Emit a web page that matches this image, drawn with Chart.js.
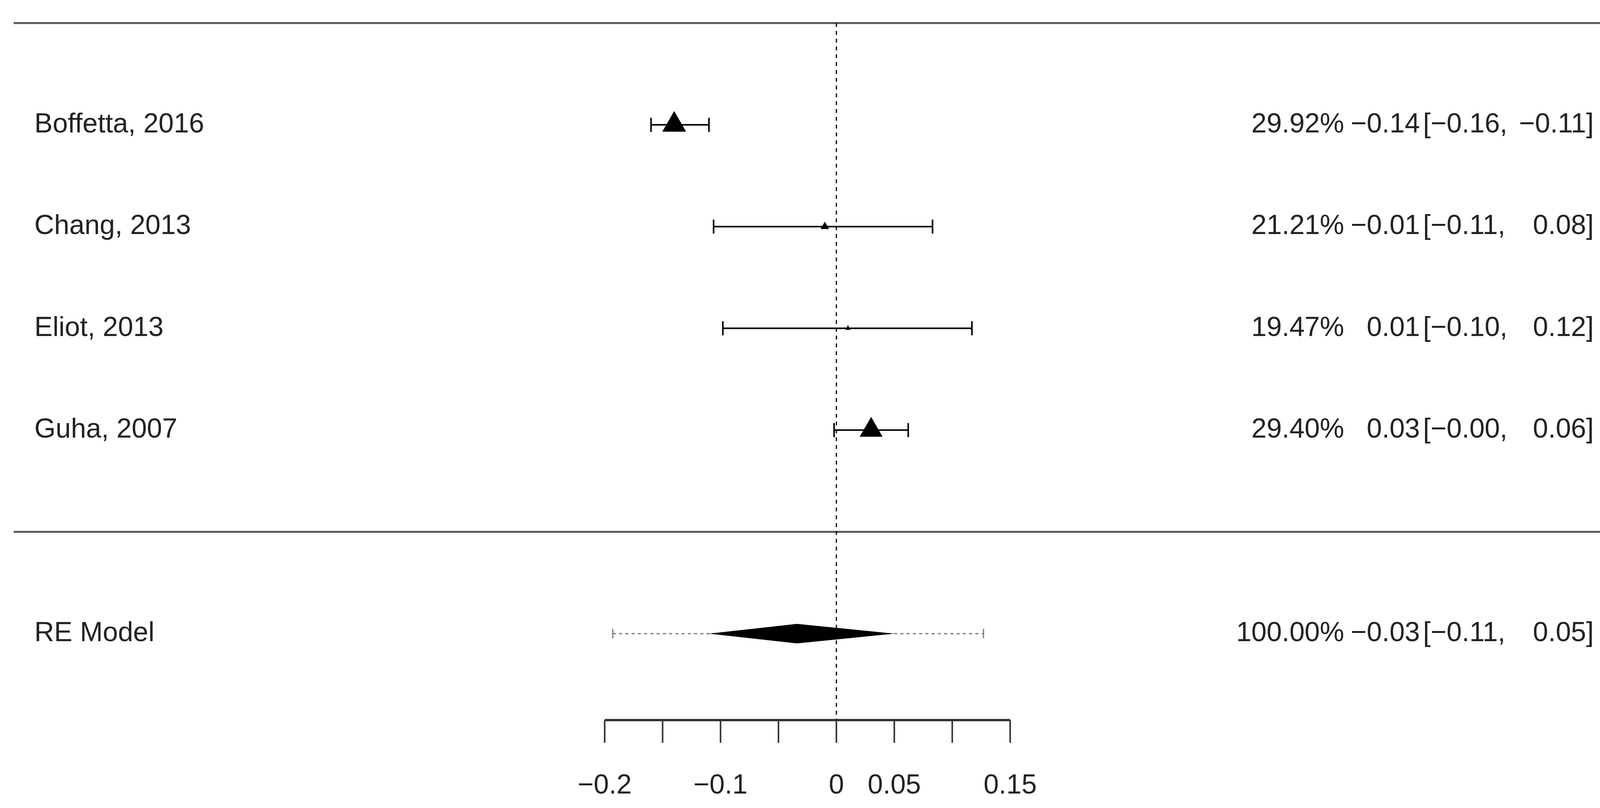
<!DOCTYPE html>
<html><head><meta charset="utf-8">
<script src="https://cdn.jsdelivr.net/npm/chart.js@4/dist/chart.umd.min.js"></script>
<style>html,body{margin:0;padding:0;background:#fff}#wrap{width:4176px;height:2068px}</style>
</head><body><div id="wrap"><canvas id="c"></canvas></div>
<script>
const studies = ["Boffetta, 2016", "Chang, 2013", "Eliot, 2013", "Guha, 2007"];
const estimates = [-0.14, -0.01, 0.01, 0.03];
const lowers = [-0.16, -0.106, -0.098, -0.002];
const uppers = [-0.11, 0.083, 0.117, 0.062];
const weights = [29.92, 21.21, 19.47, 29.40];
const estLabels = ["-0.14", "-0.01", "0.01", "0.03"];
const ciLoLabels = ["-0.16", "-0.11", "-0.10", "-0.00"];
const ciHiLabels = ["-0.11", "0.08", "0.12", "0.06"];
const modelLabel = "RE Model";
const modelEst = -0.034, modelLo = -0.11, modelHi = 0.05;
const modelPiLo = -0.193, modelPiHi = 0.127;
const modelText = ["100.00%", "-0.03", "-0.11", "0.05"];
const tickValues = [-0.2, -0.15, -0.1, -0.05, 0, 0.05, 0.1, 0.15];
const tickLabels = ["-0.2", "", "-0.1", "", "0", "0.05", "", "0.15"];

const rows = studies.map((s, i) => i + 1);
const modelRow = 6;
const fix = s => s.replace(/-/g, "\u2212");
const FONT = '70px "Liberation Sans", "DejaVu Sans", sans-serif';

const forest = {
  id: 'forest',
  afterDatasetsDraw(chart) {
    const {ctx, scales: {x, y}} = chart;
    ctx.save();
    ctx.strokeStyle = '#555'; ctx.lineWidth = 5;
    [0, 5].forEach(r => { ctx.beginPath(); ctx.moveTo(35, y.getPixelForValue(r)); ctx.lineTo(4128, y.getPixelForValue(r)); ctx.stroke(); });
    ctx.strokeStyle = '#000'; ctx.lineWidth = 3; ctx.setLineDash([10, 10]);
    ctx.beginPath(); ctx.moveTo(x.getPixelForValue(0), y.getPixelForValue(0)); ctx.lineTo(x.getPixelForValue(0), y.getPixelForValue(6.85)); ctx.stroke();
    ctx.setLineDash([]);
    ctx.lineWidth = 4;
    studies.forEach((s, i) => {
      const py = y.getPixelForValue(rows[i]), a = x.getPixelForValue(lowers[i]), b = x.getPixelForValue(uppers[i]);
      ctx.beginPath(); ctx.moveTo(a, py); ctx.lineTo(b, py);
      ctx.moveTo(a, py - 18); ctx.lineTo(a, py + 18); ctx.moveTo(b, py - 18); ctx.lineTo(b, py + 18); ctx.stroke();
    });
    const my = y.getPixelForValue(modelRow);
    ctx.strokeStyle = '#777'; ctx.lineWidth = 3; ctx.setLineDash([8, 8]);
    ctx.beginPath(); ctx.moveTo(x.getPixelForValue(modelPiLo), my); ctx.lineTo(x.getPixelForValue(modelPiHi), my); ctx.stroke();
    ctx.setLineDash([]);
    [modelPiLo, modelPiHi].forEach(v => { ctx.beginPath(); ctx.moveTo(x.getPixelForValue(v), my - 12); ctx.lineTo(x.getPixelForValue(v), my + 12); ctx.stroke(); });
    ctx.fillStyle = '#000';
    ctx.beginPath(); ctx.moveTo(x.getPixelForValue(modelLo), my); ctx.lineTo(x.getPixelForValue(modelEst), my - 25);
    ctx.lineTo(x.getPixelForValue(modelHi), my); ctx.lineTo(x.getPixelForValue(modelEst), my + 25); ctx.closePath(); ctx.fill();
    const ay = y.getPixelForValue(6.85);
    ctx.strokeStyle = '#333'; ctx.lineWidth = 6;
    ctx.beginPath(); ctx.moveTo(x.getPixelForValue(-0.2), ay); ctx.lineTo(x.getPixelForValue(0.15), ay); ctx.stroke();
    ctx.lineWidth = 4;
    ctx.font = FONT; ctx.fillStyle = '#222'; ctx.textAlign = 'center'; ctx.textBaseline = 'middle';
    tickValues.forEach((v, i) => {
      const px = x.getPixelForValue(v);
      ctx.beginPath(); ctx.moveTo(px, ay); ctx.lineTo(px, ay + 58); ctx.stroke();
      if (tickLabels[i]) ctx.fillText(fix(tickLabels[i]), px, 2012);
    });
    const rowText = (label, py, w, e, lo, hi) => {
      ctx.textAlign = 'left'; ctx.fillText(label, 88, py);
      ctx.textAlign = 'right'; ctx.fillText(w, 3441, py); ctx.fillText(fix(e), 3635, py);
      ctx.textAlign = 'left'; ctx.fillText('[' + fix(lo) + ',', 3643, py);
      ctx.textAlign = 'right'; ctx.fillText(fix(hi) + ']', 4080, py);
    };
    studies.forEach((s, i) => rowText(s, y.getPixelForValue(rows[i]), weights[i].toFixed(2) + '%', estLabels[i], ciLoLabels[i], ciHiLabels[i]));
    rowText(modelLabel, my, modelText[0], modelText[1], modelText[2], modelText[3]);
    ctx.restore();
  }
};

new Chart(document.getElementById('c'), {
  type: 'scatter',
  data: { datasets: [{
    data: studies.map((s, i) => ({x: estimates[i], y: rows[i]})),
    pointStyle: 'triangle', backgroundColor: '#000', borderColor: '#000', borderWidth: 0,
    pointRadius: ctx => 8 + (weights[ctx.dataIndex] - 19.47) * 2.6
  }]},
  options: {
    responsive: true, maintainAspectRatio: false, animation: false,
    layout: { padding: { left: 1548, right: 4176 - 2586, top: 59, bottom: 2068 - 1843 } },
    plugins: { legend: { display: false }, tooltip: { enabled: false } },
    scales: {
      x: { type: 'linear', min: -0.2, max: 0.15, display: false },
      y: { type: 'linear', min: 0, max: 6.85, reverse: true, display: false }
    }
  },
  plugins: [forest]
});
</script></body></html>
